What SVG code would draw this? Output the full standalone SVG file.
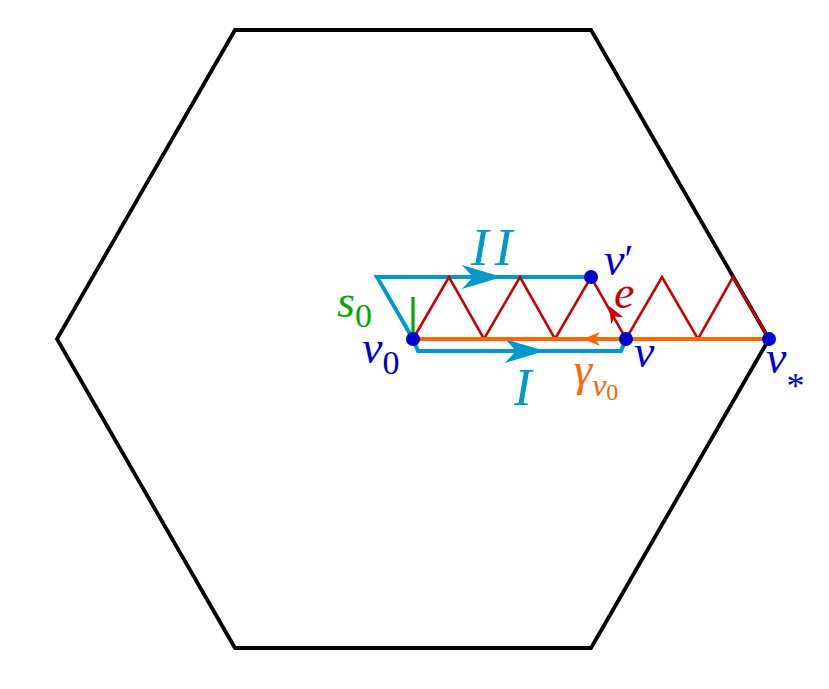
<svg xmlns="http://www.w3.org/2000/svg" xmlns:xlink="http://www.w3.org/1999/xlink" width="829" height="689" viewBox="0 0 829 689">
<style>
.hex{fill:none;stroke:#000;stroke-width:3.8;stroke-linejoin:miter}
.cy{fill:none;stroke:#0099cc;stroke-width:4;stroke-linejoin:miter}
.rd{fill:none;stroke:#cc0000;stroke-width:2.6;stroke-linejoin:miter}
.or{fill:none;stroke:#ff6600;stroke-width:4}
.gr{fill:none;stroke:#00aa00;stroke-width:3.2}
.dot{fill:#0000cc}
</style>
<defs>
<path id="big" d="M0,0 L-40,-12 L-29,0 L-40,12 Z"/>
<path id="small" d="M0,0 L-17,-7 L-12,0 L-17,7 Z"/>
</defs>
<g id="hexagon">
<polygon class="hex" points="235,30 591,30 769,339 591,648 235,648 57,339"/>
</g>
<g id="connectors">
<polyline id="pathII" class="cy" points="591,277 377,277 413,339"/>
<polyline id="pathI" class="cy" points="413,339 418,351 621,351 626,339"/>
<use xlink:href="#big" fill="#0099cc" transform="translate(502,277)"/>
<use xlink:href="#big" fill="#0099cc" transform="translate(545,351)"/>
<polyline id="zigzag" class="rd" points="413,339 449,277 484,339 520,277 555,339 591,277 626,339 662,277 698,339 733,277 769,339"/>
<use xlink:href="#small" fill="#cc0000" transform="translate(609,306) rotate(240.5)"/>
<line id="gamma" class="or" x1="413" y1="339" x2="769" y2="339"/>
<use xlink:href="#small" fill="#ff6600" transform="translate(583,339) rotate(180)"/>
<line id="s0" class="gr" x1="413" y1="339" x2="413" y2="297"/>
</g>
<g font-family="Liberation Serif, Times New Roman, serif" font-style="italic">
<g id="v0"><circle class="dot" cx="413" cy="339" r="7"/><text x="362" y="363" font-size="46" fill="#0000cc">v<tspan font-style="normal" font-size="34" dy="11">0</tspan></text></g>
<g id="v"><circle class="dot" cx="626" cy="339" r="7"/><text x="634" y="367" font-size="46" fill="#0000cc">v</text></g>
<g id="vprime"><circle class="dot" cx="591" cy="277" r="7"/><text x="604" y="275" font-size="46" fill="#0000cc">v<tspan font-style="normal" font-size="40" dy="-3">′</tspan></text></g>
<g id="vstar"><circle class="dot" cx="769" cy="339" r="7"/><text x="766" y="373" font-size="46" fill="#0000cc">v<tspan font-style="normal" font-size="36" dy="25">*</tspan></text></g>
<g id="labels">
<text x="471" y="265" font-size="53" fill="#0099cc">I<tspan dx="6">I</tspan></text>
<text x="514" y="405" font-size="53" fill="#0099cc">I</text>
<text x="614" y="308" font-size="46" fill="#cc0000">e</text>
<text x="337" y="317" font-size="46" fill="#00aa00">s<tspan font-style="normal" font-size="34" dy="10">0</tspan></text>
<text x="574" y="385" font-size="46" fill="#ff6600">γ<tspan font-size="32" dy="11">v</tspan><tspan font-style="normal" font-size="24" dy="4">0</tspan></text>
</g>
</g>
</svg>
